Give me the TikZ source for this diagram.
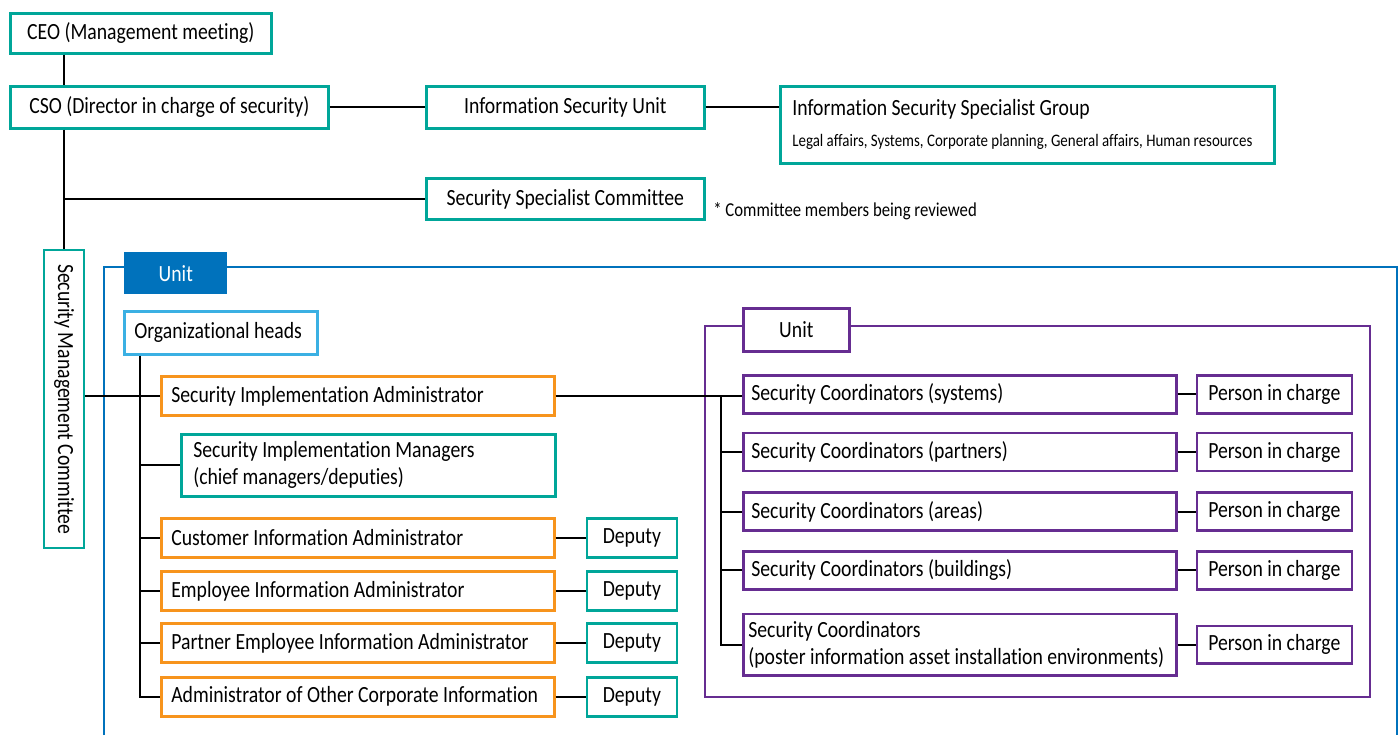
\documentclass[tikz,border=0pt]{standalone}
\usepackage{fontspec}
\setmainfont{Carlito}[FakeStretch=0.85, Ligatures=NoCommon]
\usetikzlibrary{positioning}

\definecolor{teal2}{RGB}{0,166,153}
\definecolor{orange2}{RGB}{247,148,29}
\definecolor{purple2}{RGB}{102,45,145}
\definecolor{blue2}{RGB}{0,114,188}
\definecolor{sky2}{RGB}{59,176,227}
\newcommand{\boxfont}{\fontsize{13.2pt}{15.5pt}\selectfont}
\newcommand{\subfont}{\fontsize{10pt}{11.5pt}\selectfont}
\newcommand{\notefont}{\fontsize{11.2pt}{13pt}\selectfont}

\begin{document}
\begin{tikzpicture}[
	  x=0.02cm, y=-0.02cm,
	  every node/.style={font=\boxfont},
	  box/.style={draw, line width=1.5pt, fill=white, inner sep=0pt},
	  cbox/.style={box, text centered},
	  lbox/.style={box, align=flush left, inner xsep=0.2cm},
	  tealbox/.style={draw=teal2},
	  orangebox/.style={draw=orange2},
	  purplebox/.style={draw=purple2},
	  link/.style={line width=1.1pt, black}
	]
	\useasboundingbox (0,0) rectangle (1400,735);

	% frames
	\draw [blue2, line width=1.4pt] (104,735) -- (104,267) -- (1397,267) -- (1397,735);
	\draw [purple2, line width=1.5pt] (705,326) rectangle (1370,697);

	% top level
	\node (ceo) [cbox, tealbox, anchor=north west, minimum width=5.22cm, minimum height=0.8cm] at (9,12) {CEO (Management meeting)};
	\node (cso) [cbox, tealbox, anchor=north west, minimum width=6.36cm, minimum height=0.84cm] at (9,85) {CSO (Director in charge of security)};
	\node (isu) [cbox, tealbox, anchor=north west, minimum width=5.56cm, minimum height=0.84cm] at (425,85) {Information Security Unit};
	\node (issg) [lbox, tealbox, anchor=north west, text width=9.4cm, minimum height=1.54cm, inner xsep=0.24cm] at (779,85) {Information Security Specialist Group\\[2pt]{\subfont Legal affairs, Systems, Corporate planning, General affairs, Human resources}};
	\node (ssc) [cbox, tealbox, anchor=north west, minimum width=5.56cm, minimum height=0.82cm] at (425,177) {Security Specialist Committee};
	\node (note) [anchor=west, font=\notefont, inner sep=0pt] at (713,211) {* Committee members being reviewed};
	\node (smc) [cbox, tealbox, rotate=-90, minimum width=5.96cm, minimum height=0.8cm] at (64,399) {Security Management Committee};

	% unit
	\node (unit) [box, draw=none, fill=blue2, text=white, anchor=north west, minimum width=2.06cm, minimum height=0.84cm] at (123,251) {Unit};
	\node (heads) [lbox, draw=sky2, anchor=north west, text width=3.46cm, minimum height=0.86cm] at (123,310) {Organizational heads};
	\node (sia) [lbox, orangebox, anchor=north west, text width=7.46cm, minimum height=0.78cm] at (160,375) {Security Implementation Administrator};
	\node (sim) [lbox, tealbox, anchor=north west, text width=7.0cm, minimum height=1.24cm, inner xsep=0.24cm] at (180,433) {Security Implementation Managers\\(chief managers/deputies)};
	\node (cia) [lbox, orangebox, anchor=north west, text width=7.46cm, minimum height=0.78cm] at (160,517) {Customer Information Administrator};
	\node (eia) [lbox, orangebox, below=0.23cm of cia, text width=7.46cm, minimum height=0.78cm] {Employee Information Administrator};
	\node (peia) [lbox, orangebox, below=0.21cm of eia, text width=7.46cm, minimum height=0.78cm] {Partner Employee Information Administrator};
	\node (aoci) [lbox, orangebox, below=0.24cm of peia, text width=7.46cm, minimum height=0.78cm] {Administrator of Other Corporate Information};
	\node (ciadep) [cbox, tealbox, right=0.6cm of cia, minimum width=1.8cm, minimum height=0.78cm] {Deputy};
	\node (eiadep) [cbox, tealbox, right=0.6cm of eia, minimum width=1.8cm, minimum height=0.78cm] {Deputy};
	\node (peiadep) [cbox, tealbox, right=0.6cm of peia, minimum width=1.8cm, minimum height=0.78cm] {Deputy};
	\node (aocidep) [cbox, tealbox, right=0.6cm of aoci, minimum width=1.8cm, minimum height=0.78cm] {Deputy};

	% coordinators unit
	\node (punit) [cbox, purplebox, anchor=north west, minimum width=2.12cm, minimum height=0.86cm] at (742,307) {Unit};
	\node (scsys) [lbox, purplebox, anchor=north west, text width=8.34cm, minimum height=0.76cm, inner xsep=0.16cm] at (742,374) {Security Coordinators (systems)};
	\node (scpart) [lbox, purplebox, below=0.34cm of scsys, text width=8.34cm, minimum height=0.76cm, inner xsep=0.16cm] {Security Coordinators (partners)};
	\node (scarea) [lbox, purplebox, below=0.38cm of scpart, text width=8.34cm, minimum height=0.76cm, inner xsep=0.16cm] {Security Coordinators (areas)};
	\node (scbldg) [lbox, purplebox, below=0.36cm of scarea, text width=8.34cm, minimum height=0.76cm, inner xsep=0.16cm] {Security Coordinators (buildings)};
	\node (scpost) [lbox, purplebox, below=0.44cm of scbldg, text width=8.46cm, minimum height=1.24cm, inner xsep=0.1cm] {Security Coordinators\\(poster information asset installation environments)};
	\node (picsys) [cbox, purplebox, right=0.36cm of scsys, minimum width=3.1cm, minimum height=0.76cm] {Person in charge};
	\node (picpart) [cbox, purplebox, right=0.36cm of scpart, minimum width=3.1cm, minimum height=0.76cm] {Person in charge};
	\node (picarea) [cbox, purplebox, right=0.36cm of scarea, minimum width=3.1cm, minimum height=0.76cm] {Person in charge};
	\node (picbldg) [cbox, purplebox, right=0.36cm of scbldg, minimum width=3.1cm, minimum height=0.76cm] {Person in charge};
	\node (picpost) [cbox, purplebox, right=0.36cm of scpost, minimum width=3.1cm, minimum height=0.76cm] {Person in charge};

	\coordinate (hspine) at (140,0);
	\coordinate (cspine) at (721,0);

	\draw [link] (ceo.south -| smc.center) -- (cso.north -| smc.center);
	\draw [link] (cso.south -| smc.center) -- (smc.west);
	\draw [link] (cso) -- (isu);
	\draw [link] (isu.east) -- (isu.east -| issg.west);
	\draw [link] (ssc.west -| smc.center) -- (ssc);
	\draw [link] (smc.north |- sia.west) -- (sia);
	\draw [link] (heads.south -| hspine) |- (aoci);
	\draw [link] (sim.west -| hspine) -- (sim);
	\draw [link] (cia.west -| hspine) -- (cia);
	\draw [link] (eia.west -| hspine) -- (eia);
	\draw [link] (peia.west -| hspine) -- (peia);
	\draw [link] (cia) -- (ciadep);
	\draw [link] (eia) -- (eiadep);
	\draw [link] (peia) -- (peiadep);
	\draw [link] (aoci) -- (aocidep);
	\draw [link] (sia.east) -- (sia.east -| scsys.west);
	\draw [link] (sia.east -| cspine) |- (scpost);
	\draw [link] (scpart.west -| cspine) -- (scpart);
	\draw [link] (scarea.west -| cspine) -- (scarea);
	\draw [link] (scbldg.west -| cspine) -- (scbldg);
	\draw [link] (scsys) -- (picsys);
	\draw [link] (scpart) -- (picpart);
	\draw [link] (scarea) -- (picarea);
	\draw [link] (scbldg) -- (picbldg);
	\draw [link] (scpost) -- (picpost);

	\end{tikzpicture}
\end{document}
